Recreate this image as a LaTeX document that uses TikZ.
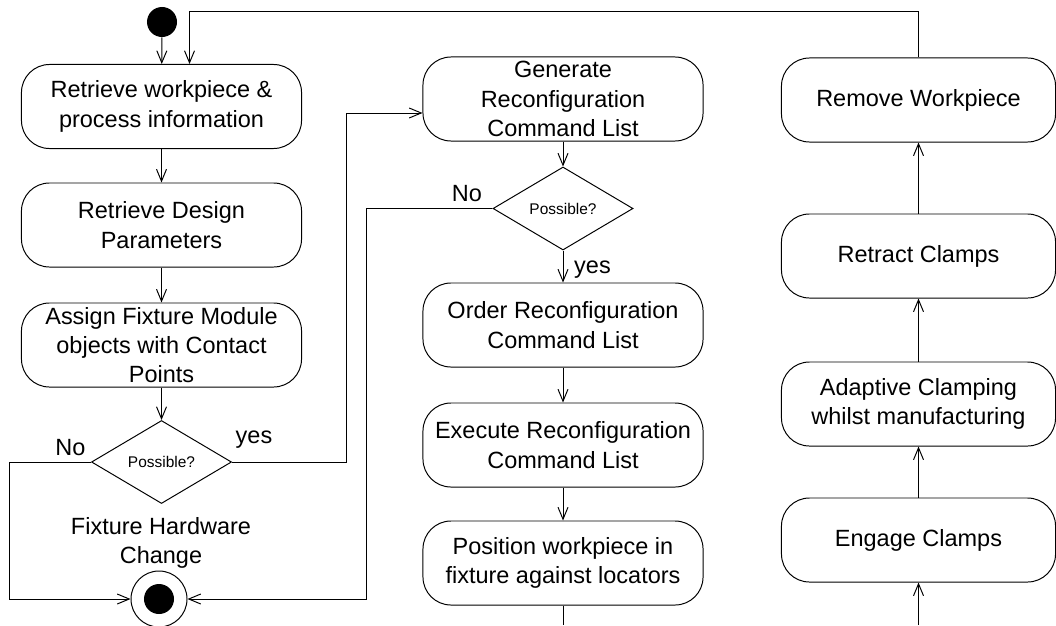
\documentclass[tikz,border=0pt]{standalone}
\usepackage{fontspec}
\setmainfont{Liberation Sans}
\usetikzlibrary{shapes.geometric,arrows.meta}
\begin{document}
\begin{tikzpicture}[x=0.025cm,y=-0.025cm,line width=0.7pt,
        every node/.style={font=\fontsize{16.7}{20.8}\selectfont},
        act/.style={draw,rounded corners=0.7cm,minimum width=7cm,minimum height=2.1cm,align=center,inner sep=1pt},
        decision/.style={draw,diamond,minimum width=3.5cm,minimum height=2.075cm,inner sep=0pt,font=\fontsize{11}{13}\selectfont},
        startnode/.style={circle,fill=black,minimum size=0.75cm,inner sep=0pt},
        endnode/.style={draw,circle,minimum size=1.4cm,inner sep=0pt,path picture={\fill (path picture bounding box.center) circle (0.375cm);}},
        flow/.style={-{Straight Barb[length=3mm,width=2.5mm]}}]
    \useasboundingbox (0,0) rectangle (1056,625);
    \node[startnode] (start) at (162,22) {};
    \node[act] (b1) at (161.5,106.5) {Retrieve workpiece \&\\process information};
    \node[act] (b2) at (161.5,225) {Retrieve Design\\Parameters};
    \node[act] (b3) at (161.5,345) {Assign Fixture Module\\objects with Contact\\Points};
    \node[decision] (d1) at (161.5,462) {Possible?};
    \node (hwchange) at (161,543) [align=center] {Fixture Hardware\\Change};
    \node[endnode] (final) at (159,599) {};
    \node (no1) at (70.5,447.5) {No};
    \node (yes1) at (254,440) {yes};
    \node[act] (b4) at (563,99) {Generate\\Reconfiguration\\Command List};
    \node[decision] (d2) at (563,208.5) {Possible?};
    \node (no2) at (467,193.5) {No};
    \node (yes2) at (592.5,270) {yes};
    \node[act] (b5) at (563,325) {Order Reconfiguration\\Command List};
    \node[act] (b6) at (563,445) {Execute Reconfiguration\\Command List};
    \node[act] (b7) at (563,563) {Position workpiece in\\fixture against locators};
    \node[act,minimum width=6.85cm] (remove) at (918.5,100) {Remove Workpiece};
    \node[act,minimum width=6.85cm] (retract) at (918.5,256) {Retract Clamps};
    \node[act,minimum width=6.85cm] (adapt) at (918.5,404) {Adaptive Clamping\\whilst manufacturing};
    \node[act,minimum width=6.85cm] (engage) at (918.5,540) {Engage Clamps};
    \coordinate (top) at (0,11);
    \coordinate (midend) at (563,625);
    \coordinate (rightend) at (918.5,625);
    \draw[flow] (start) -- (b1);
    \draw[flow] (remove.north) -- (remove.north |- top) -| ([xshift=0.7cm]b1.north);
    \draw[flow] (b1) -- (b2);
    \draw[flow] (b2) -- (b3);
    \draw[flow] (b3) -- (d1);
    \draw[flow] (d1.west) -- ++(-81,0) |- (final.west);
    \draw[flow] (d1.east) -- ++(114,0) |- ([yshift=-0.35cm]b4.west);
    \draw[flow] (b4) -- (d2);
    \draw[flow] (d2.west) -- ++(-126,0) |- (final.east);
    \draw[flow] (d2) -- (b5);
    \draw[flow] (b5) -- (b6);
    \draw[flow] (b6) -- (b7);
    \draw (b7) -- (midend);
    \draw[flow] (rightend) -- (engage);
    \draw[flow] (engage) -- (adapt);
    \draw[flow] (adapt) -- (retract);
    \draw[flow] (retract) -- (remove);
\end{tikzpicture}
\end{document}
